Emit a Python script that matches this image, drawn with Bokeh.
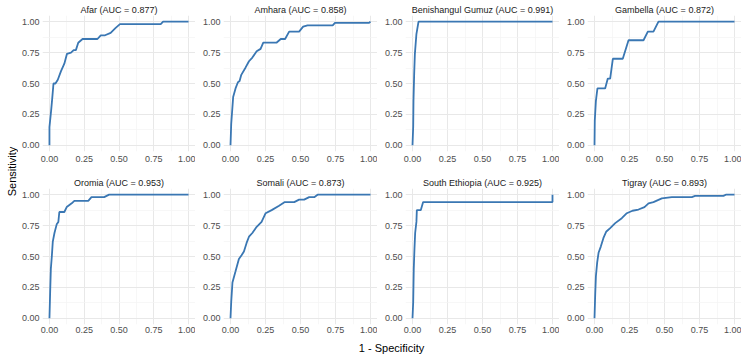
import math
from bokeh.plotting import figure
from bokeh.layouts import gridplot, row, column
from bokeh.models import Range1d, FixedTicker, PrintfTickFormatter
from bokeh.core.properties import value
from bokeh.embed import file_html
from bokeh.resources import INLINE

regions = ["Afar", "Amhara", "Benishangul Gumuz", "Gambella",
           "Oromia", "Somali", "South Ethiopia", "Tigray"]
auc = [0.877, 0.858, 0.991, 0.872, 0.953, 0.873, 0.925, 0.893]

afar_fpr = [0, 0, .012, .02, .029, .043, .06, .083, .107, .126, .155, .174, .19, .207, .238, .345, .369, .40, .44, .476, .507, .80, .817, 1.0]
afar_tpr = [0, .147, .28, .38, .5, .5, .53, .60, .66, .74, .75, .77, .77, .83, .86, .86, .89, .89, .91, .95, .98, .98, 1.0, 1.0]

amhara_fpr = [0, .005, .019, .036, .053, .065, .077, .108, .132, .156, .187, .215, .234, .328, .359, .39, .419, .49, .519, .55, .58, .73, .746, .99, 1.0]
amhara_tpr = [0, .17, .39, .46, .51, .52, .57, .63, .68, .71, .76, .78, .83, .83, .86, .86, .92, .92, .96, .97, .97, .97, .99, .99, 1.0]

benishangul_fpr = [0, .005, .007, .012, .017, .028, .043, 1.0]
benishangul_tpr = [0, .15, .36, .58, .74, .90, 1.0, 1.0]

gambella_fpr = [0, .002, .01, .021, .076, .095, .112, .131, .202, .243, .35, .381, .421, .457, 1.0]
gambella_tpr = [0, .2, .36, .46, .46, .54, .54, .70, .70, .85, .85, .92, .92, 1.0, 1.0]

oromia_fpr = [0, .005, .01, .017, .024, .036, .052, .064, .071, .107, .124, .148, .16, .179, .279, .302, .393, .429, 1.0]
oromia_tpr = [0, .21, .40, .50, .62, .69, .76, .78, .86, .86, .90, .92, .93, .95, .95, .98, .98, 1.0, 1.0]

somali_fpr = [0, .005, .014, .036, .06, .079, .096, .115, .132, .156, .187, .222, .251, .294, .347, .388, .455, .49, .526, .562, .598, .622, 1.0]
somali_tpr = [0, .13, .29, .38, .48, .51, .54, .61, .66, .69, .74, .78, .85, .875, .91, .94, .94, .96, .96, .98, .98, 1.0, 1.0]

south_fpr = [0, .005, .009, .014, .019, .028, .031, .059, .076, 1.0, 1.0]
south_tpr = [0, .13, .40, .56, .69, .78, .875, .875, .94, .94, 1.0]

tigray_fpr = [0, .005, .01, .019, .029, .045, .064, .083, .112, .148, .195, .231, .271, .314, .357, .386, .421, .481, .552, .695, .719, .921, .938, 1.0]
tigray_tpr = [0, .19, .34, .45, .53, .58, .65, .70, .73, .77, .81, .85, .87, .88, .90, .93, .94, .97, .98, .98, .99, .99, 1.0, 1.0]

curves = [(afar_fpr, afar_tpr), (amhara_fpr, amhara_tpr), (benishangul_fpr, benishangul_tpr),
          (gambella_fpr, gambella_tpr), (oromia_fpr, oromia_tpr), (somali_fpr, somali_tpr),
          (south_fpr, south_tpr), (tigray_fpr, tigray_tpr)]

tick_vals = [0, 0.25, 0.5, 0.75, 1.0]
minor_vals = [0.125, 0.375, 0.625, 0.875]

FONT = "Liberation Sans"
LINE = "#3A77B3"

YLAB_W = 18
ROW1_H = 173
ROW2_H = 167
XLAB_H = 354 - ROW1_H - ROW2_H


def panel(i):
    top_row = i < 4
    first_col = (i % 4) == 0
    left = 23 if first_col else 28
    h = ROW1_H if top_row else ROW2_H
    p = figure(width=left + 154, height=h, output_backend="svg", toolbar_location=None,
               x_range=Range1d(-0.05, 1.05), y_range=Range1d(-0.05, 1.05),
               min_border_left=left, min_border_right=0, min_border_top=15,
               min_border_bottom=22 if top_row else 16)
    p.title.text = f"{regions[i]} (AUC = {auc[i]:.3f})"
    p.title.align = "center"
    p.title.text_font = FONT
    p.title.text_font_size = "9px"
    p.title.text_font_style = "normal"
    p.title.text_color = "#1A1A1A"
    p.title.standoff = 2
    p.outline_line_color = None
    p.background_fill_color = "white"
    p.border_fill_color = "white"
    for ax in (p.xaxis, p.yaxis):
        ax.ticker = FixedTicker(ticks=tick_vals, minor_ticks=minor_vals)
        ax.formatter = PrintfTickFormatter(format="%.2f")
        ax.axis_line_color = None
        ax.major_tick_line_color = None
        ax.minor_tick_line_color = None
        ax.major_tick_out = 0
        ax.major_tick_in = 0
        ax.minor_tick_out = 0
        ax.minor_tick_in = 0
        ax.major_label_text_font = FONT
        ax.major_label_text_font_size = "9px"
        ax.major_label_text_color = "#4D4D4D"
        ax.major_label_standoff = 3
    p.xaxis.major_label_standoff = 4 if top_row else 2
    p.grid.grid_line_color = "#E8E8E8"
    p.grid.grid_line_width = 1
    p.grid.minor_grid_line_color = "#F3F3F3"
    p.grid.minor_grid_line_width = 0.7
    fpr, tpr = curves[i]
    p.line(fpr, tpr, line_color=LINE, line_width=1.8)
    return p


panels = [panel(i) for i in range(8)]
grid = gridplot([panels[:4], panels[4:]], toolbar_location=None)

GRID_H = ROW1_H + ROW2_H
ylab = figure(width=YLAB_W, height=GRID_H, output_backend="svg", toolbar_location=None,
              x_range=Range1d(0, YLAB_W), y_range=Range1d(0, GRID_H), min_border=0)
ylab.axis.visible = False
ylab.grid.visible = False
ylab.outline_line_color = None
ylab.text(x=[11], y=[GRID_H - 171], text=["Sensitivity"], angle=math.pi / 2,
          text_align="center", text_baseline="middle",
          text_font=value(FONT), text_font_size="11px", text_color="black")

xlab = figure(width=743, height=XLAB_H, output_backend="svg", toolbar_location=None,
              x_range=Range1d(0, 743), y_range=Range1d(0, XLAB_H), min_border=0)
xlab.axis.visible = False
xlab.grid.visible = False
xlab.outline_line_color = None
xlab.text(x=[391], y=[7], text=["1 - Specificity"],
          text_align="center", text_baseline="middle",
          text_font=value(FONT), text_font_size="11px", text_color="black")

layout = column(row(ylab, grid), xlab)
open("out.html", "w").write(file_html(layout, INLINE))
